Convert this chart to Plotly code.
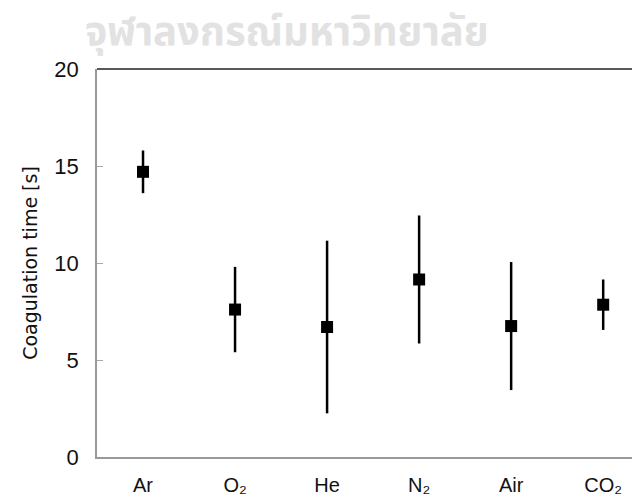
import plotly.graph_objects as go

categories = ["Ar", "O₂", "He", "N₂", "Air", "CO₂"]
mean_time = [14.7, 7.6, 6.7, 9.15, 6.75, 7.85]
err_time = [1.1, 2.2, 4.45, 3.3, 3.3, 1.3]
y_ticks = [0, 5, 10, 15, 20]

x_idx = list(range(len(categories)))

fig = go.Figure()
fig.add_trace(go.Scatter(
    x=x_idx, y=mean_time, mode="markers",
    marker=dict(symbol="square", size=12, color="black"),
    error_y=dict(type="data", array=err_time, visible=True, width=0, thickness=2.5, color="black"),
    showlegend=False,
))

font_family = "Liberation Sans, Arial, sans-serif"
fig.update_layout(
    width=632, height=489,
    margin=dict(l=89, r=0, t=61, b=40),
    paper_bgcolor="white", plot_bgcolor="white",
    font=dict(family=font_family, color="#111111", size=22),
    xaxis=dict(
        range=[-0.5, 5.4], tickmode="array", tickvals=x_idx, ticktext=categories,
        showgrid=False, zeroline=False, showline=True, linecolor="#999999", linewidth=2,
        ticks="", ticklabelstandoff=9, tickfont=dict(size=20), automargin=False,
    ),
    yaxis=dict(
        range=[0, 20], tickmode="array", tickvals=y_ticks,
        showgrid=False, zeroline=False, showline=True, linecolor="#999999", linewidth=1.5,
        ticks="inside", ticklen=6, tickcolor="#aaaaaa", tickwidth=1,
        ticklabelstandoff=12, tickfont=dict(size=22), automargin=False,
        title=dict(text="Coagulation time [s]",
                   font=dict(size=19, family="DejaVu Sans, sans-serif"), standoff=12),
    ),
    shapes=[dict(type="line", xref="paper", yref="paper", x0=0, x1=1, y0=1, y1=1,
                 line=dict(color="#222222", width=1.5))],
    annotations=[dict(text="<b>จุฬาลงกรณ์มหาวิทยาลัย</b>", xref="paper", yref="paper",
                      x=0.35, y=1, xanchor="center", yanchor="bottom",
                      yshift=4, showarrow=False,
                      font=dict(size=40, color="#e2e2e2", family="Noto Sans Thai, Noto Sans, DejaVu Sans, sans-serif"))],
)

fig.write_html("out.html")
